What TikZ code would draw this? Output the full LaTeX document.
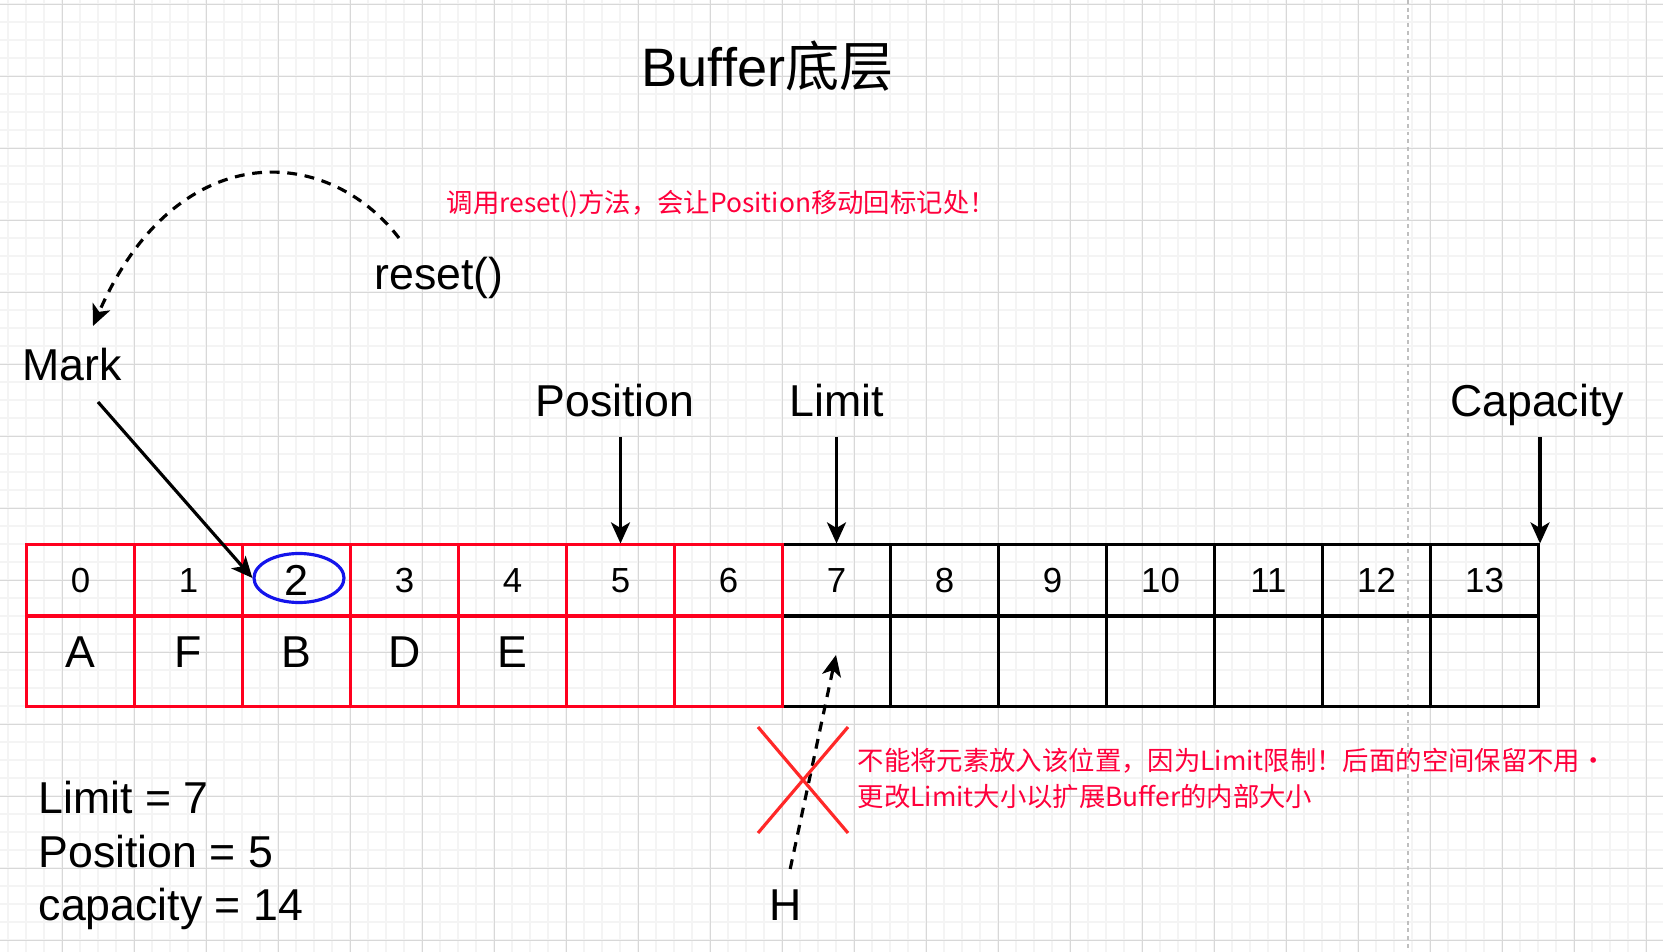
\documentclass[tikz,border=0pt]{standalone}
\usepackage{fontspec}
\setmainfont{Liberation Sans}
\newfontfamily\cjk{Noto Sans CJK SC}
\usetikzlibrary{arrows.meta,shapes.geometric}
\definecolor{tabred}{RGB}{255,0,30}
\definecolor{notered}{RGB}{255,0,60}
\definecolor{crossred}{RGB}{255,40,40}
\definecolor{ringblue}{RGB}{20,20,235}
\definecolor{minorgrid}{RGB}{244,244,244}
\definecolor{majorgrid}{RGB}{216,216,216}
\tikzset{
  >={Stealth[length=6pt,width=5.4pt,inset=1.6pt]},
  cellbox/.style={draw, line width=0.85pt, minimum width=1.08cm, inner sep=0pt},
  topcell/.style={cellbox, minimum height=0.71cm, font=\fontsize{9.9}{11}\selectfont},
  lowcell/.style={cellbox, minimum height=0.90cm},
  lbl/.style={inner sep=0pt, font=\fontsize{12.7}{14}\selectfont},
  note/.style={inner sep=0pt, text=notered, font=\cjk\fontsize{7.5}{9}\selectfont},
  ptr/.style={->, line width=0.9pt},
  dptr/.style={ptr, dash pattern=on 2.8pt off 2.2pt},
}

\begin{document}
\begin{tikzpicture}[x=0.01cm,y=-0.01cm]
	\fill[white] (0,0) rectangle (1663,952);
	\useasboundingbox (0,0) rectangle (1663,952);
	% background grid
	\foreach \k in {0,...,92} \draw[minorgrid, line width=0.5pt] (8.3+18*\k,0) -- (8.3+18*\k,952);
	\foreach \k in {0,...,52} \draw[minorgrid, line width=0.5pt] (0,4.3+18*\k) -- (1663,4.3+18*\k);
	\foreach \k in {0,...,22} \draw[majorgrid, line width=0.3pt] (62.3+72*\k,0) -- (62.3+72*\k,952);
	\foreach \k in {0,...,13} \draw[majorgrid, line width=0.3pt] (0,4.3+72*\k) -- (1663,4.3+72*\k);
	\draw[black!25, dash pattern=on 1.1pt off 1.1pt, line width=0.3pt] (1408,0) -- (1408,952);

	\node[inner sep=0pt, anchor=base west, font=\fontsize{15.4}{18}\selectfont] (title) at (641,87) {Buffer{\cjk 底层}};

	% cells: black part first, red part on top
	\foreach \i in {13,...,0}{
		\pgfmathsetmacro\cx{80.5+108*\i}
		\ifnum\i<7 \def\cc{tabred}\else\def\cc{black}\fi
		\node[topcell, draw=\cc] (n\i) at (\cx,580.5) {\ifnum\i=2 \fontsize{12.3}{14}\selectfont\fi\i};
		\node[lowcell, draw=\cc] (c\i) at (\cx,661) {};
	}
	\foreach \i/\t in {0/A,1/F,2/B,3/D,4/E}
		\node[lbl] (v\i) at ([yshift=0.087cm]c\i.center) {\t};
	\node[draw=ringblue, line width=0.9pt, ellipse, minimum width=0.90cm, minimum height=0.49cm, inner sep=0pt] (ring) at (299,578) {};

	% pointers
	\node[lbl, anchor=base] (markL) at (72,381) {Mark};
	\node[lbl, anchor=base] (posL) at (615,417) {Position};
	\node[lbl, anchor=base] (limL) at (837,417) {Limit};
	\node[lbl, anchor=base] (capL) at (1537,417) {Capacity};
	\coordinate (markFrom) at (98,402);
	\draw[ptr] (markFrom) -- (ring.west);
	\draw[ptr, shorten <=5.7pt] (n5.north |- posL.base) -- (n5.north);
	\draw[ptr, shorten <=5.7pt] (n7.north |- limL.base) -- (n7.north);
	\draw[ptr, shorten <=5.7pt] (n13.north east |- capL.base) -- (n13.north east);

	% reset()
	\node[lbl, anchor=base west] (resetL) at (374,290) {reset()};
	\node[note, anchor=base west] (resetTip) at (446,213) {调用reset()方法，会让Position移动回标记处！};
	\coordinate (rsFrom) at (399,238);
	\coordinate (rsTo) at (93,326);
	\draw[dptr] (rsFrom) .. controls (325,142) and (175,138) .. (rsTo);

	% put beyond limit
	\node[lbl, anchor=base] (hL) at (786,920) {H};
	\coordinate (hTo) at (836,655);
	\draw[dptr, shorten <=5.7pt] (hL.north) -- (hTo);
	\draw[crossred, line width=0.9pt] (758,727) -- (848,833) (848,727) -- (758,833);
	\node[note, anchor=base west] (warn1) at (857,771) {不能将元素放入该位置，因为Limit限制！后面的空间保留不用·};
	\node[note, anchor=base west] (warn2) at (857,807) {更改Limit大小以扩展Buffer的内部大小};

	% values
	\node[lbl, anchor=base west] (limV) at (38,813) {Limit = 7};
	\node[lbl, anchor=base west] (posV) at (38,867) {Position = 5};
	\node[lbl, anchor=base west] (capV) at (38,920) {capacity = 14};
\end{tikzpicture}
\end{document}
